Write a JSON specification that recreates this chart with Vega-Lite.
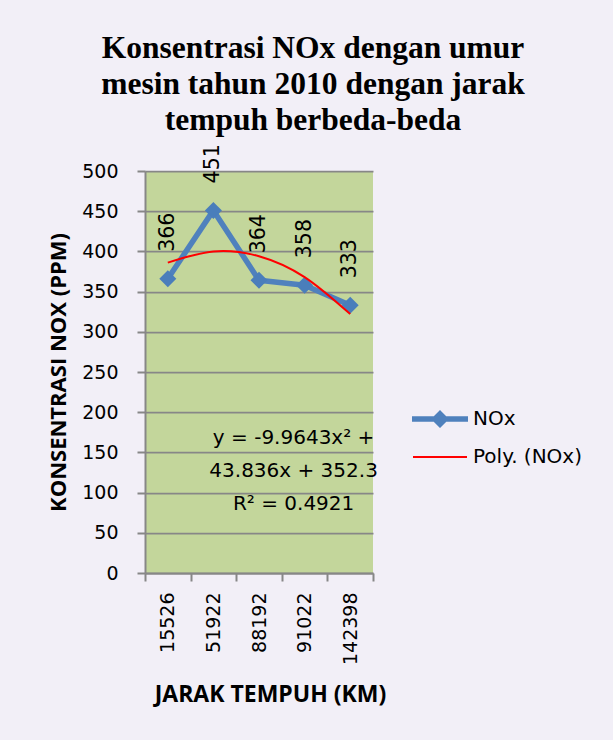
{
  "$schema": "https://vega.github.io/schema/vega-lite/v6.json",
  "width": 228,
  "height": 402,
  "autosize": {"type": "none"},
  "padding": {"left": 145, "top": 171, "right": 240, "bottom": 167},
  "background": "#F2EFF7",
  "title": {
    "text": ["Konsentrasi NOx dengan umur", "mesin tahun 2010 dengan jarak", "tempuh berbeda-beda"],
    "font": "Liberation Serif",
    "fontWeight": "bold",
    "fontSize": 31.5,
    "lineHeight": 36,
    "color": "#000000",
    "anchor": "middle",
    "dx": 54,
    "offset": 8
  },
  "datasets": {
    "nox": [
      {"jarak": "15526", "nox": 366, "series": "NOx"},
      {"jarak": "51922", "nox": 451, "series": "NOx"},
      {"jarak": "88192", "nox": 364, "series": "NOx"},
      {"jarak": "91022", "nox": 358, "series": "NOx"},
      {"jarak": "142398", "nox": 333, "series": "NOx"}
    ],
    "poly": [
      {"jarak": "15526", "nox": 386, "series": "Poly. (NOx)"},
      {"jarak": "51922", "nox": 400, "series": "Poly. (NOx)"},
      {"jarak": "88192", "nox": 394, "series": "Poly. (NOx)"},
      {"jarak": "91022", "nox": 368, "series": "Poly. (NOx)"},
      {"jarak": "142398", "nox": 322, "series": "Poly. (NOx)"}
    ],
    "eq": [
      {"jarak": "91022", "nox": 168, "label": "y = -9.9643x² +|43.836x + 352.3|R² = 0.4921"}
    ]
  },
  "encoding": {
    "x": {
      "field": "jarak",
      "type": "ordinal",
      "sort": null,
      "scale": {"type": "band", "paddingInner": 0, "paddingOuter": 0, "domain": ["15526", "51922", "88192", "91022", "142398"]},
      "axis": {
        "title": "JARAK TEMPUH (KM)",
        "labelAngle": -90,
        "tickBand": "extent",
        "grid": false,
        "domainColor": "#878787",
        "domainWidth": 2,
        "tickColor": "#878787",
        "tickWidth": 2,
        "tickSize": 8,
        "labelPadding": 11,
        "labelFont": "DejaVu Sans",
        "labelFontSize": 19,
        "labelColor": "#000000",
        "titleFont": "Open Sans",
        "titleFontWeight": "bold",
        "titleFontSize": 23,
        "titleColor": "#000000",
        "titlePadding": 19,
        "titleX": 125
      }
    },
    "y": {
      "field": "nox",
      "type": "quantitative",
      "scale": {"domain": [0, 500], "nice": false},
      "axis": {
        "title": "KONSENTRASI NOX (PPM)",
        "values": [0, 50, 100, 150, 200, 250, 300, 350, 400, 450, 500],
        "grid": true,
        "gridColor": "#878787",
        "gridWidth": 1.75,
        "domainColor": "#878787",
        "domainWidth": 2,
        "tickColor": "#878787",
        "tickWidth": 2,
        "tickSize": 8,
        "labelPadding": 19,
        "labelFont": "DejaVu Sans",
        "labelFontSize": 19,
        "labelColor": "#000000",
        "titleFont": "Open Sans",
        "titleFontWeight": "bold",
        "titleFontSize": 22,
        "titleColor": "#000000",
        "titlePadding": 11
      }
    }
  },
  "layer": [
    {
      "data": {"name": "nox"},
      "mark": {"type": "line", "strokeWidth": 5.5, "strokeJoin": "round", "strokeCap": "round"},
      "encoding": {
        "color": {
          "field": "series",
          "type": "nominal",
          "scale": {"domain": ["NOx", "Poly. (NOx)"], "range": ["#4F81BD", "#FF0000"]},
          "legend": {
            "title": null,
            "orient": "none",
            "legendX": 275,
            "legendY": 228,
            "padding": 0,
            "symbolSize": 1600,
            "labelFont": "DejaVu Sans",
            "labelFontSize": 20,
            "labelColor": "#000000",
            "labelOffset": 13,
            "rowPadding": 8,
            "encode": {
              "symbols": {
                "update": {
                  "shape": {"signal": "datum.value === 'NOx' ? 'M-1.4,-0.14L1.4,-0.14L1.4,0.14L-1.4,0.14Z M0,-0.45L0.45,0L0,0.45L-0.45,0Z' : 'M-1.35,-0.05L1.35,-0.05L1.35,0.05L-1.35,0.05Z'"},
                  "fill": {"signal": "datum.value === 'NOx' ? '#4F81BD' : '#FF0000'"},
                  "fillOpacity": {"value": 1},
                  "stroke": {"value": "transparent"},
                  "strokeWidth": {"value": 0}
                }
              }
            }
          }
        }
      }
    },
    {
      "data": {"name": "nox"},
      "mark": {"type": "point", "shape": "diamond", "filled": true, "size": 290, "color": "#4A7EBB", "opacity": 1}
    },
    {
      "data": {"name": "poly"},
      "mark": {"type": "line", "strokeWidth": 2, "interpolate": "natural"},
      "encoding": {
        "color": {"field": "series", "type": "nominal"}
      }
    },
    {
      "data": {"name": "nox"},
      "mark": {"type": "text", "angle": 270, "align": "left", "baseline": "middle", "dx": 27, "font": "DejaVu Sans", "fontSize": 20.5, "color": "#000000"},
      "encoding": {"text": {"field": "nox", "type": "quantitative"}}
    },
    {
      "data": {"name": "eq"},
      "mark": {"type": "text", "align": "center", "baseline": "middle", "lineBreak": "|", "lineHeight": 33, "dx": -11, "font": "DejaVu Sans", "fontSize": 20, "color": "#000000"},
      "encoding": {"text": {"field": "label", "type": "nominal"}}
    }
  ],
  "config": {
    "view": {"stroke": null, "fill": "#C3D69B"}
  }
}
